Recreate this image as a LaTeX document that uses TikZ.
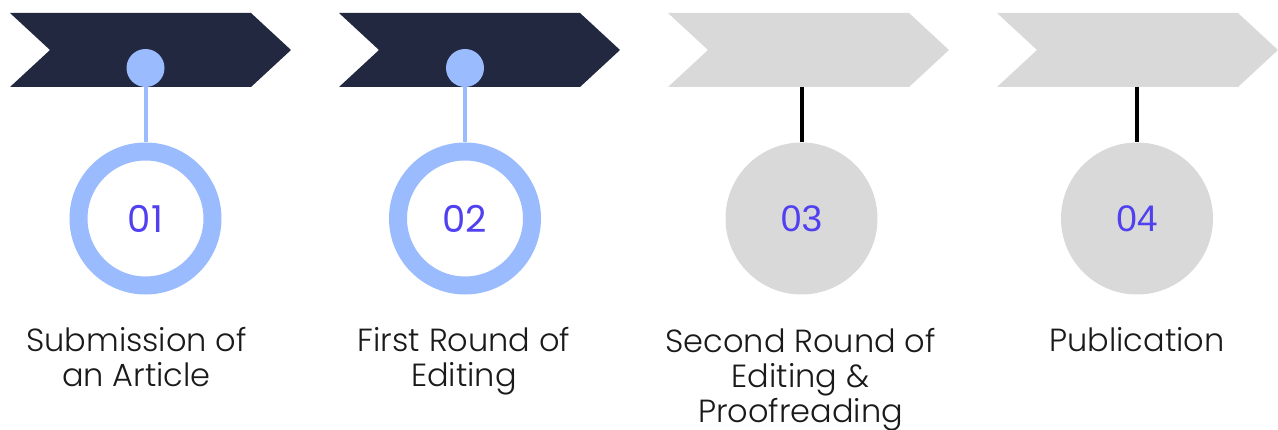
\documentclass[tikz,border=0pt]{standalone}
\usepackage{fontspec}
\setmainfont{Poppins}
\newfontfamily\lightfont{Poppins Light}
\newfontfamily\numsans{Liberation Sans}
\definecolor{navy}{HTML}{222840}
\definecolor{lightgrey}{HTML}{D9D9D9}
\definecolor{skyblue}{HTML}{9ABBFD}
\definecolor{numblue}{HTML}{5040F0}
\definecolor{txt}{HTML}{1A1A1A}
\begin{document}
\begin{tikzpicture}[x=1pt,y=-1pt,
  darkchev/.style={fill=navy},
  greychev/.style={fill=lightgrey},
  dotnode/.style={circle,fill=skyblue,minimum size=38pt,inner sep=0pt},
  ringnode/.style={circle,draw=skyblue,line width=18pt,fill=white,minimum size=134pt,inner sep=0pt,
    font=\fontsize{37}{40}\selectfont,text=numblue},
  discnode/.style={circle,fill=lightgrey,minimum size=152pt,inner sep=0pt,
    font=\numsans\fontsize{37}{40}\selectfont,text=numblue},
  bluelink/.style={draw=skyblue,line width=4pt},
  blacklink/.style={draw=black,line width=4pt},
  label/.style={anchor=base,align=center,text=txt,font=\lightfont\fontsize{32}{35}\selectfont}
]
\useasboundingbox (0,0) rectangle (1278,430);
% chevrons
\path[darkchev] (10,13) -- (251,13) -- (291,50) -- (251,87) -- (10,87) -- (50,50) -- cycle;
\path[darkchev] (339,13) -- (580,13) -- (620,50) -- (580,87) -- (339,87) -- (379,50) -- cycle;
\path[greychev] (668,13) -- (909,13) -- (949,50) -- (909,87) -- (668,87) -- (708,50) -- cycle;
\path[greychev] (997,13) -- (1238,13) -- (1278,50) -- (1238,87) -- (997,87) -- (1037,50) -- cycle;
% circles
\node[ringnode] (c1) at (145.5,218.5) {01};
\node[ringnode] (c2) at (465,218.5) {02};
\node[discnode] (c3) at (801.5,218.5) {03};
\node[discnode] (c4) at (1137,218.5) {04};
% dots and connectors
\node[dotnode] (d1) at (145.5,68) {};
\node[dotnode] (d2) at (465,68) {};
\coordinate (t3) at (801.5,87);
\coordinate (t4) at (1137,87);
\draw[bluelink] (d1) -- (c1);
\draw[bluelink] (d2) -- (c2);
\draw[blacklink] (t3) -- (c3);
\draw[blacklink] (t4) -- (c4);
% labels (base anchor = baseline of last line)
\node[label] (l1) at (136.5,387) {Submission of\\an Article};
\node[label] (l2) at (464,387) {First Round of\\Editing};
\node[label] (l3) at (800.5,422) {Second Round of\\Editing \&\\Proofreading};
\node[label] (l4) at (1137,352) {Publication};
\end{tikzpicture}
\end{document}
